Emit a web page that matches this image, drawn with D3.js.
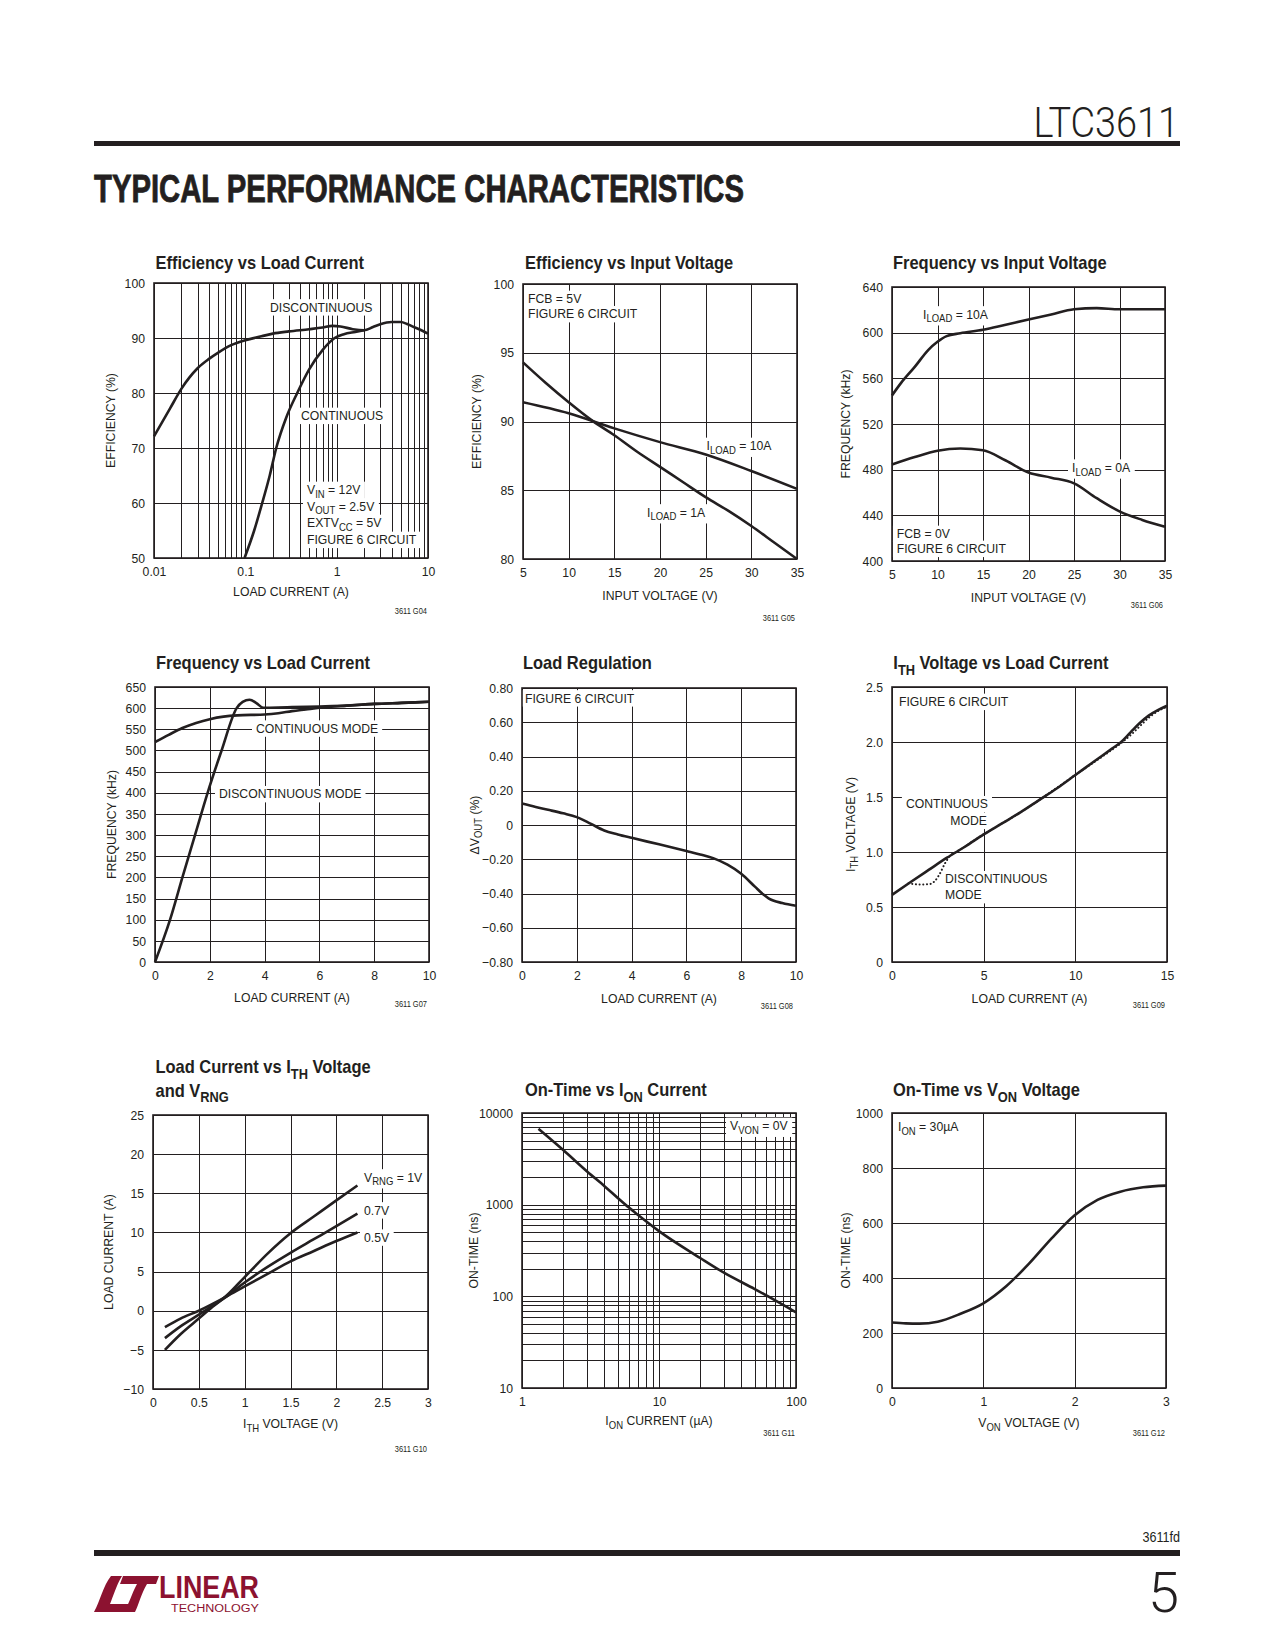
<!DOCTYPE html>
<html><head><meta charset="utf-8">
<script src="https://cdn.jsdelivr.net/npm/d3@7"></script>
<style>
body{margin:0;background:#fff;}
svg text{font-family:"Liberation Sans",Arial,Helvetica,sans-serif;}
</style></head><body>
<script>
// ---------------- DATA ----------------
// G04 Efficiency vs Load Current
const g04XTicks = [0.01, 0.1, 1, 10];
const g04XLabels = ["0.01", "0.1", "1", "10"];
const g04YTicks = [50, 60, 70, 80, 90, 100];
const g04YLabels = ["50", "60", "70", "80", "90", "100"];
const g04Discontinuous = [[0.01,72.1],[0.015,77.2],[0.02,80.8],[0.03,84.5],[0.04,86.2],[0.05,87.3],[0.07,88.7],[0.1,89.6],[0.15,90.3],[0.2,90.8],[0.3,91.2],[0.5,91.6],[0.7,91.9],[0.9,92.2],[1.1,92.1],[1.5,91.6],[2,91.4],[2.5,92.0],[3,92.5],[4,92.9],[5,92.9],[6,92.5],[7,92.0],[8,91.6],[10,90.8]];
const g04Continuous = [[0.098,50],[0.125,55],[0.153,60],[0.185,65],[0.218,70],[0.28,75.5],[0.37,80],[0.5,84.3],[0.7,87.8],[0.95,90],[1.2,90.7],[1.6,91.1],[2,91.4]];

// G05 Efficiency vs Input Voltage
const g05XTicks = [5, 10, 15, 20, 25, 30, 35];
const g05XLabels = ["5", "10", "15", "20", "25", "30", "35"];
const g05YTicks = [80, 85, 90, 95, 100];
const g05YLabels = ["80", "85", "90", "95", "100"];
const g05Load1A = [[5,94.3],[7.5,92.8],[10,91.4],[12.5,90.1],[15,89.0],[17.5,87.8],[20,86.7],[22.5,85.6],[25,84.5],[27.5,83.5],[30,82.4],[32.5,81.2],[35,80.0]];
const g05Load10A = [[5,91.4],[10,90.6],[15,89.5],[20,88.5],[25,87.6],[30,86.4],[35,85.1]];

// G06 Frequency vs Input Voltage
const g06XTicks = [5, 10, 15, 20, 25, 30, 35];
const g06XLabels = ["5", "10", "15", "20", "25", "30", "35"];
const g06YTicks = [400, 440, 480, 520, 560, 600, 640];
const g06YLabels = ["400", "440", "480", "520", "560", "600", "640"];
const g06Load10A = [[5,545],[6,556],[7.5,570],[9,585],[10,592],[11,597],[12.5,599.5],[15,602.5],[17.5,607],[20,611.5],[22.5,616],[25,620.5],[27.5,621.5],[30,620.5],[35,620.5]];
const g06Load0A = [[5,484.5],[7.5,491],[10,496.5],[12.5,498.5],[15,497],[17.5,488],[20,477.5],[22.5,473],[25,468],[27.5,455],[30,443.5],[32.5,436],[35,430]];

// G07 Frequency vs Load Current
const g07XTicks = [0, 2, 4, 6, 8, 10];
const g07XLabels = ["0", "2", "4", "6", "8", "10"];
const g07YTicks = [0,50,100,150,200,250,300,350,400,450,500,550,600,650];
const g07YLabels = ["0","50","100","150","200","250","300","350","400","450","500","550","600","650"];
const g07Continuous = [[0,520],[0.5,537],[1,553],[1.5,565],[2,574],[2.5,580],[3,583],[4,585],[4.5,588],[5,593],[5.5,597],[6,601],[7,606],[8,610],[9,612.5],[10,615]];
const g07Discontinuous = [[0,0],[0.55,100],[1.0,200],[1.46,300],[1.92,400],[2.43,500],[2.98,600],[3.2,615],[3.45,620],[3.7,612],[3.95,601],[4.5,601.5],[5,602.5],[6,604],[7,606],[8,610],[9,612.5],[10,615]];

// G08 Load Regulation
const g08XTicks = [0, 2, 4, 6, 8, 10];
const g08XLabels = ["0", "2", "4", "6", "8", "10"];
const g08YTicks = [-0.8, -0.6, -0.4, -0.2, 0, 0.2, 0.4, 0.6, 0.8];
const g08YLabels = ["\u22120.80","\u22120.60","\u22120.40","\u22120.20","0","0.20","0.40","0.60","0.80"];
const g08Vout = [[0,0.125],[0.5,0.105],[1,0.087],[1.5,0.068],[2,0.046],[2.5,0.008],[3,-0.032],[3.5,-0.055],[4,-0.075],[5,-0.113],[6,-0.152],[6.5,-0.172],[7,-0.195],[7.5,-0.232],[8,-0.285],[8.5,-0.36],[8.8,-0.405],[9,-0.428],[9.5,-0.456],[10,-0.472]];

// G09 ITH Voltage vs Load Current
const g09XTicks = [0, 5, 10, 15];
const g09XLabels = ["0", "5", "10", "15"];
const g09YTicks = [0, 0.5, 1.0, 1.5, 2.0, 2.5];
const g09YLabels = ["0", "0.5", "1.0", "1.5", "2.0", "2.5"];
const g09Continuous = [[0,0.61],[1,0.725],[2,0.837],[3,0.948],[4,1.05],[5,1.16],[6,1.26],[7,1.36],[8,1.47],[9,1.58],[10,1.70],[11,1.82],[12,1.94],[12.5,2.0],[13,2.085],[13.5,2.17],[14,2.24],[14.5,2.29],[15,2.33]];
const g09Discontinuous = [[0.9,0.715],[1.5,0.705],[2,0.707],[2.3,0.73],[2.6,0.8],[2.9,0.9],[3.2,0.97],[3.5,1.0],[5,1.16],[7,1.36],[10,1.70],[12,1.93],[12.5,1.99],[13,2.06],[13.5,2.14],[14,2.22],[14.5,2.28],[15,2.32]];

// G10 Load Current vs ITH Voltage and VRNG
const g10XTicks = [0, 0.5, 1, 1.5, 2, 2.5, 3];
const g10XLabels = ["0", "0.5", "1", "1.5", "2", "2.5", "3"];
const g10YTicks = [-10, -5, 0, 5, 10, 15, 20, 25];
const g10YLabels = ["\u221210", "\u22125", "0", "5", "10", "15", "20", "25"];
const g10Vrng1V = [[0.13,-5],[0.3,-3.0],[0.5,-1.0],[0.65,0.5],[0.8,1.9],[1.0,4.3],[1.25,7.3],[1.5,9.9],[1.75,12.0],[2.0,14.1],[2.23,16.0]];
const g10Vrng07V = [[0.13,-3.5],[0.3,-2.0],[0.5,-0.5],[0.8,1.8],[1.0,3.6],[1.25,5.6],[1.5,7.4],[1.75,9.1],[2.0,10.8],[2.23,12.4]];
const g10Vrng05V = [[0.13,-2.1],[0.3,-1.0],[0.5,0],[0.8,1.8],[1.0,3.1],[1.25,4.7],[1.5,6.3],[1.75,7.6],[2.0,8.9],[2.23,10.0]];

// G11 On-Time vs ION Current
const g11XTicks = [1, 10, 100];
const g11XLabels = ["1", "10", "100"];
const g11YTicks = [10, 100, 1000, 10000];
const g11YLabels = ["10", "100", "1000", "10000"];
const g11OnTime = [[1.32,6730],[2,3950],[3,2290],[4,1590],[5,1185],[6,935],[7,776],[10,515],[20,262],[30,180],[50,120],[70,91],[100,67]];

// G12 On-Time vs VON Voltage
const g12XTicks = [0, 1, 2, 3];
const g12XLabels = ["0", "1", "2", "3"];
const g12YTicks = [0, 200, 400, 600, 800, 1000];
const g12YLabels = ["0", "200", "400", "600", "800", "1000"];
const g12OnTime = [[0,238],[0.15,235],[0.3,234],[0.5,241],[0.75,270],[1.0,308],[1.25,370],[1.5,452],[1.75,545],[2.0,628],[2.25,684],[2.5,714],[2.75,730],[3.0,736]];

// ---------------- DRAWING ----------------
const INK = '#231f20';
const RED = '#8c1230';
const SX = 0.94;        // horizontal condensing of label text
const LBL = 13;         // label font size
const svg = d3.select('body').append('svg').attr('width', 1275).attr('height', 1650);

function logGrid(lo, hi) {
  const v = [];
  for (let d = lo; d < hi * 0.999; d *= 10) for (let k = 1; k < 10; k++) v.push(+(k * d).toPrecision(3));
  v.push(hi);
  return v;
}

function rich(sel, str, base) {
  const parts = str.split(/(_\{[^}]*\})/).filter(p => p.length);
  const shift = base * 0.3;
  let down = false;
  parts.forEach(p => {
    if (p.startsWith('_{')) {
      sel.append('tspan').attr('dy', shift).style('font-size', (base * 0.78) + 'px').text(p.slice(2, -1));
      down = true;
    } else {
      const t = sel.append('tspan').text(p);
      if (down) { t.attr('dy', -shift); down = false; }
    }
  });
  return sel;
}

function txt(parent, x, y, str, size, opts = {}) {
  const sx = opts.sx != null ? opts.sx : SX;
  const t = parent.append('text')
    .attr('transform', `translate(${x},${y})${opts.rotate ? ' rotate(-90)' : ''} scale(${sx},1)`)
    .attr('text-anchor', opts.anchor || 'start').attr('fill', opts.fill || INK)
    .style('font-size', size + 'px').style('font-weight', opts.weight || 'normal');
  if (opts.ls) t.style('letter-spacing', opts.ls + 'px');
  if (opts.family) t.style('font-family', opts.family);
  rich(t, str, size);
  return t;
}

function drawChart(c) {
  const g = svg.append('g').attr('transform', `translate(${c.left},${c.top})`);
  const x = (c.xLog ? d3.scaleLog() : d3.scaleLinear()).domain(c.xDomain).range([0, c.w]);
  const y = (c.yLog ? d3.scaleLog() : d3.scaleLinear()).domain(c.yDomain).range([c.h, 0]);

  const gridStyle = s => {
    s.select('.domain').remove();
    s.selectAll('line').attr('stroke', INK).attr('stroke-width', 1).attr('shape-rendering', 'crispEdges');
  };
  g.append('g').attr('transform', `translate(0,${c.h})`)
    .call(d3.axisBottom(x).tickValues(c.xGrid).tickSize(-c.h).tickFormat(''))
    .call(gridStyle);
  g.append('g')
    .call(d3.axisLeft(y).tickValues(c.yGrid).tickSize(-c.w).tickFormat(''))
    .call(gridStyle);

  const ko = g.append('g');
  const curves = g.append('g');
  const ann = g.append('g');

  const line = d3.line().x(d => x(d[0])).y(d => y(d[1])).curve(d3.curveMonotoneX);
  c.series.forEach(s => {
    curves.append('path').datum(s.data).attr('d', line).attr('fill', 'none').attr('stroke', INK)
      .attr('stroke-width', s.dotted ? 2 : 2.6).attr('stroke-linejoin', 'round')
      .attr('stroke-linecap', s.dotted ? 'round' : 'butt')
      .attr('stroke-dasharray', s.dotted ? '0.1 3.6' : null);
  });

  (c.notes || []).forEach(n => {
    const t = txt(ann, n.x, n.y, n.text, LBL, { anchor: n.anchor });
    const b = t.node().getBBox();
    ko.append('rect').attr('x', n.x + b.x * SX - 4).attr('y', n.y + b.y - 1)
      .attr('width', b.width * SX + 8).attr('height', b.height + 2).attr('fill', '#fff');
  });

  g.append('rect').attr('width', c.w).attr('height', c.h).attr('fill', 'none').attr('stroke', INK).attr('stroke-width', 1.6);

  const tickStyle = s => {
    s.select('.domain').remove();
    s.selectAll('text').each(function () {
      const t = d3.select(this);
      const tx = +t.attr('x') || 0, ty = +t.attr('y') || 0;
      t.attr('x', null).attr('y', null).attr('transform', `translate(${tx},${ty}) scale(${SX},1)`)
        .attr('fill', INK).style('font-size', LBL + 'px').style('font-family', '"Liberation Sans",Arial,sans-serif');
    });
  };
  g.append('g').attr('transform', `translate(0,${c.h})`)
    .call(d3.axisBottom(x).tickValues(c.xTicks).tickFormat((d, i) => c.xLabels[i]).tickSize(0).tickPadding(9))
    .call(tickStyle);
  g.append('g')
    .call(d3.axisLeft(y).tickValues(c.yTicks).tickFormat((d, i) => c.yLabels[i]).tickSize(0).tickPadding(9))
    .call(tickStyle);

  txt(g, c.w / 2, c.h + c.xTitleDy, c.xTitle, LBL, { anchor: 'middle' });
  txt(g, c.yTitleDx + 4.5, c.h / 2, c.yTitle, LBL, { anchor: 'middle', rotate: true });

  c.title.forEach((t, i) => txt(g, c.titleDx, c.titleDy[i], t, 18.5, { weight: 'bold', sx: 0.89 }));

  txt(g, c.code[0] - c.left, c.code[1] - c.top, c.codeText, 8.5, { anchor: 'end', sx: 0.88 });
}

const charts = [
  { left: 154, top: 283, w: 274, h: 275, xLog: true, xDomain: [0.01, 10], yDomain: [50, 100],
    xGrid: logGrid(0.01, 10), yGrid: g04YTicks, xTicks: g04XTicks, xLabels: g04XLabels, yTicks: g04YTicks, yLabels: g04YLabels,
    series: [{ data: g04Discontinuous }, { data: g04Continuous }],
    notes: [{ x: 116, y: 28.5, text: 'DISCONTINUOUS' }, { x: 147, y: 137, text: 'CONTINUOUS' },
            { x: 153, y: 211, text: 'V_{IN} = 12V' }, { x: 153, y: 227.5, text: 'V_{OUT} = 2.5V' },
            { x: 153, y: 244, text: 'EXTV_{CC} = 5V' }, { x: 153, y: 261, text: 'FIGURE 6 CIRCUIT' }],
    title: ['Efficiency vs Load Current'], titleDx: 1.5, titleDy: [-14.5],
    xTitle: 'LOAD CURRENT (A)', xTitleDy: 38, yTitle: 'EFFICIENCY (%)', yTitleDx: -44,
    code: [427, 614], codeText: '3611 G04' },
  { left: 523, top: 284, w: 274, h: 275, xDomain: [5, 35], yDomain: [80, 100],
    xGrid: g05XTicks, yGrid: g05YTicks, xTicks: g05XTicks, xLabels: g05XLabels, yTicks: g05YTicks, yLabels: g05YLabels,
    series: [{ data: g05Load1A }, { data: g05Load10A }],
    notes: [{ x: 5, y: 19, text: 'FCB = 5V' }, { x: 5, y: 34.3, text: 'FIGURE 6 CIRCUIT' },
            { x: 183.5, y: 166, text: 'I_{LOAD} = 10A' }, { x: 124, y: 232.5, text: 'I_{LOAD} = 1A' }],
    title: ['Efficiency vs Input Voltage'], titleDx: 2, titleDy: [-15.5],
    xTitle: 'INPUT VOLTAGE (V)', xTitleDy: 41, yTitle: 'EFFICIENCY (%)', yTitleDx: -46.3,
    code: [795, 621], codeText: '3611 G05' },
  { left: 892, top: 287, w: 273, h: 274, xDomain: [5, 35], yDomain: [400, 640],
    xGrid: g06XTicks, yGrid: g06YTicks, xTicks: g06XTicks, xLabels: g06XLabels, yTicks: g06YTicks, yLabels: g06YLabels,
    series: [{ data: g06Load10A }, { data: g06Load0A }],
    notes: [{ x: 31, y: 31.5, text: 'I_{LOAD} = 10A' }, { x: 180, y: 184.7, text: 'I_{LOAD} = 0A' },
            { x: 4.7, y: 251, text: 'FCB = 0V' }, { x: 4.7, y: 266, text: 'FIGURE 6 CIRCUIT' }],
    title: ['Frequency vs Input Voltage'], titleDx: 1, titleDy: [-18.5],
    xTitle: 'INPUT VOLTAGE (V)', xTitleDy: 40.7, yTitle: 'FREQUENCY (kHz)', yTitleDx: -47,
    code: [1163, 608], codeText: '3611 G06' },
  { left: 155, top: 687, w: 274, h: 275, xDomain: [0, 10], yDomain: [0, 650],
    xGrid: g07XTicks, yGrid: g07YTicks, xTicks: g07XTicks, xLabels: g07XLabels, yTicks: g07YTicks, yLabels: g07YLabels,
    series: [{ data: g07Continuous }, { data: g07Discontinuous }],
    notes: [{ x: 101, y: 45.7, text: 'CONTINUOUS MODE' }, { x: 64, y: 111.3, text: 'DISCONTINUOUS MODE' }],
    title: ['Frequency vs Load Current'], titleDx: 1, titleDy: [-18],
    xTitle: 'LOAD CURRENT (A)', xTitleDy: 39.7, yTitle: 'FREQUENCY (kHz)', yTitleDx: -43.3,
    code: [427, 1007], codeText: '3611 G07' },
  { left: 522, top: 688, w: 274, h: 274, xDomain: [0, 10], yDomain: [-0.8, 0.8],
    xGrid: g08XTicks, yGrid: g08YTicks, xTicks: g08XTicks, xLabels: g08XLabels, yTicks: g08YTicks, yLabels: g08YLabels,
    series: [{ data: g08Vout }],
    notes: [{ x: 3, y: 14.5, text: 'FIGURE 6 CIRCUIT' }],
    title: ['Load Regulation'], titleDx: 1, titleDy: [-19],
    xTitle: 'LOAD CURRENT (A)', xTitleDy: 41, yTitle: '\u0394V_{OUT} (%)', yTitleDx: -48,
    code: [793, 1009], codeText: '3611 G08' },
  { left: 892, top: 687, w: 275, h: 275, xDomain: [0, 15], yDomain: [0, 2.5],
    xGrid: g09XTicks, yGrid: g09YTicks, xTicks: g09XTicks, xLabels: g09XLabels, yTicks: g09YTicks, yLabels: g09YLabels,
    series: [{ data: g09Discontinuous, dotted: true }, { data: g09Continuous }],
    notes: [{ x: 7, y: 19, text: 'FIGURE 6 CIRCUIT' },
            { x: 96, y: 121.3, text: 'CONTINUOUS', anchor: 'end' }, { x: 95, y: 138, text: 'MODE', anchor: 'end' },
            { x: 53, y: 196.3, text: 'DISCONTINUOUS' }, { x: 53, y: 212.3, text: 'MODE' }],
    title: ['I_{TH} Voltage vs Load Current'], titleDx: 1.3, titleDy: [-18],
    xTitle: 'LOAD CURRENT (A)', xTitleDy: 41, yTitle: 'I_{TH} VOLTAGE (V)', yTitleDx: -42,
    code: [1165, 1008], codeText: '3611 G09' },
  { left: 153, top: 1115, w: 275, h: 274, xDomain: [0, 3], yDomain: [-10, 25],
    xGrid: g10XTicks, yGrid: g10YTicks, xTicks: g10XTicks, xLabels: g10XLabels, yTicks: g10YTicks, yLabels: g10YLabels,
    series: [{ data: g10Vrng1V }, { data: g10Vrng07V }, { data: g10Vrng05V }],
    notes: [{ x: 211, y: 66.5, text: 'V_{RNG} = 1V' }, { x: 211, y: 99.5, text: '0.7V' }, { x: 211, y: 126.7, text: '0.5V' }],
    title: ['Load Current vs I_{TH} Voltage', 'and V_{RNG}'], titleDx: 2.5, titleDy: [-42, -18.5],
    xTitle: 'I_{TH} VOLTAGE (V)', xTitleDy: 39, yTitle: 'LOAD CURRENT (A)', yTitleDx: -44.7,
    code: [427, 1452], codeText: '3611 G10' },
  { left: 522, top: 1113, w: 274, h: 275, xLog: true, yLog: true, xDomain: [1, 100], yDomain: [10, 10000],
    xGrid: logGrid(1, 100), yGrid: logGrid(10, 10000), xTicks: g11XTicks, xLabels: g11XLabels, yTicks: g11YTicks, yLabels: g11YLabels,
    series: [{ data: g11OnTime }],
    notes: [{ x: 208, y: 17, text: 'V_{VON} = 0V' }],
    title: ['On-Time vs I_{ON} Current'], titleDx: 3, titleDy: [-17],
    xTitle: 'I_{ON} CURRENT (\u00B5A)', xTitleDy: 37, yTitle: 'ON-TIME (ns)', yTitleDx: -48.7,
    code: [795, 1436], codeText: '3611 G11' },
  { left: 892, top: 1113, w: 274, h: 275, xDomain: [0, 3], yDomain: [0, 1000],
    xGrid: g12XTicks, yGrid: g12YTicks, xTicks: g12XTicks, xLabels: g12XLabels, yTicks: g12YTicks, yLabels: g12YLabels,
    series: [{ data: g12OnTime }],
    notes: [{ x: 6, y: 17.7, text: 'I_{ON} = 30\u00B5A' }],
    title: ['On-Time vs V_{ON} Voltage'], titleDx: 1, titleDy: [-17],
    xTitle: 'V_{ON} VOLTAGE (V)', xTitleDy: 38.7, yTitle: 'ON-TIME (ns)', yTitleDx: -47,
    code: [1165, 1436], codeText: '3611 G12' }
];
charts.forEach(drawChart);

// ---------------- PAGE FRAME ----------------
const THIN = 'Roboto,"Liberation Sans",Arial,sans-serif';
txt(svg, 1179, 137, 'LTC3611', 43, { anchor: 'end', sx: 0.88, weight: 300, family: THIN });
svg.append('rect').attr('x', 94).attr('y', 141).attr('width', 1086).attr('height', 5).attr('fill', INK);
txt(svg, 94, 202, 'TYPICAL PERFORMANCE CHARACTERISTICS', 38, { weight: 'bold', sx: 1 })
  .attr('textLength', 650).attr('lengthAdjust', 'spacingAndGlyphs')
  .attr('stroke', INK).attr('stroke-width', 0.8);

txt(svg, 1180, 1542, '3611fd', 14, { anchor: 'end', sx: 0.9 });
svg.append('rect').attr('x', 94).attr('y', 1550).attr('width', 1086).attr('height', 6).attr('fill', INK);
txt(svg, 1179, 1612, '5', 56, { anchor: 'end', sx: 1, weight: 300, family: THIN });

// Linear Technology logo
const logo = svg.append('g');
logo.append('path').attr('fill', RED)
  .attr('d', 'M94,1612 C100,1601 103,1586 111,1576 L122,1576 C116,1586 113,1597 110,1604 L129,1604 L126,1612 Z');
logo.append('path').attr('fill', RED)
  .attr('d', 'M123,1576 L159,1576 L156,1584 L147,1584 C141,1594 139,1604 135,1612 L124,1612 C129,1604 132,1593 137,1584 L120,1584 Z');
txt(logo, 159, 1598, 'LINEAR', 32, { weight: 'bold', fill: RED, sx: 1 }).attr('textLength', 100).attr('lengthAdjust', 'spacingAndGlyphs');
txt(logo, 171, 1612, 'TECHNOLOGY', 10, { fill: RED, sx: 1 }).attr('textLength', 88).attr('lengthAdjust', 'spacingAndGlyphs');
</script>
</body></html>
